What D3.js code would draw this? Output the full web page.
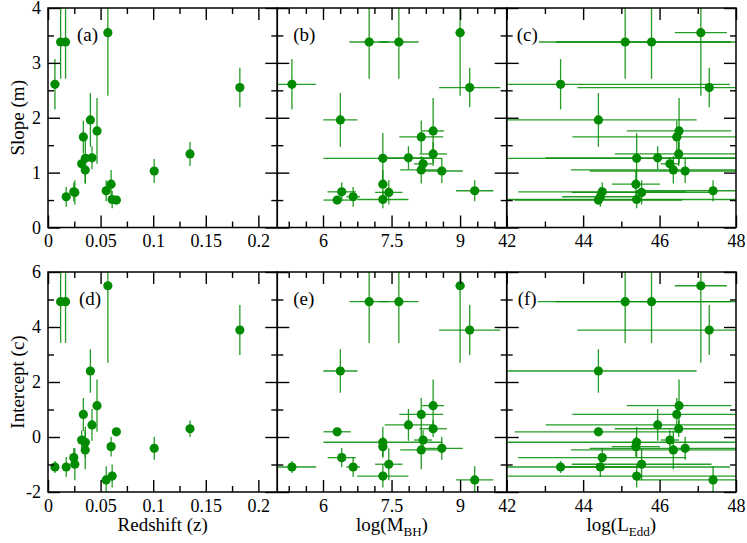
<!DOCTYPE html>
<html>
<head>
<meta charset="utf-8">
<script src="https://cdn.jsdelivr.net/npm/d3@7"></script>
<style>
    body { margin: 0; background: #fff; }
    text { font-family: "Liberation Serif", "Times New Roman", serif; }
</style>
</head>
<body>
<script>
//values, one entry per source
var redshift     = [0.0066, 0.012, 0.0167, 0.0569, 0.1824, 0.0403, 0.0466, 0.0336, 0.0418, 0.0355, 0.135, 0.032, 0.0354, 0.101, 0.060, 0.0245, 0.0173, 0.065, 0.061, 0.0255, 0.0553];
var logMbh       = [5.32, 7.01, 7.66, 9.00, 9.21, 6.38, 8.41, 8.15, 7.87, 7.31, 8.41, 8.19, 8.15, 8.60, 7.31, 6.41, 6.66, 6.31, 7.31, 7.44, 9.32];
var logMbhErr    = [0.53, 0.43, 0.43, 0.10, 0.67, 0.375, 0.24, 0.48, 0.52, 1.3, 0.3, 0.2, 0.46, 0.46, 0.1, 0.31, 0.15, 0.3, 0.56, 0.3, 0.41];
var logLedd      = [43.41, 45.10, 45.79, 47.08, 47.30, 44.40, 46.51, 46.45, 45.95, 45.40, 46.50, 46.27, 46.36, 46.67, 45.38, 44.50, 44.45, 44.40, 45.40, 45.53, 47.40];
var logLeddErr   = [4.43, 2.76, 2.5, 0.68, 3.45, 2.57, 1.37, 2.73, 2.93, 3.6, 1.67, 0.24, 2.68, 2.5, 0.63, 2.2, 1.0, 2.19, 3.6, 1.83, 2.0];
var slope        = [2.61, 3.38, 3.38, 3.55, 2.55, 1.96, 1.76, 1.65, 1.27, 1.26, 1.34, 1.16, 1.05, 1.03, 0.79, 0.65, 0.56, 0.50, 0.51, 0.64, 0.67];
var slopeErr     = [0.46, 0.67, 0.67, 1.15, 0.36, 0.49, 0.6, 0.3, 0.21, 0.46, 0.22, 0.12, 0.25, 0.22, 0.26, 0.17, 0.18, 0.06, 0.16, 0.22, 0.19];
var intercept    = [-1.09, 4.92, 4.92, 5.50, 3.89, 2.40, 1.14, 0.82, 0.44, -0.19, 0.30, -0.11, -0.47, -0.41, -0.35, -0.75, -1.09, 0.19, -1.42, -0.99, -1.56];
var interceptErr = [0.22, 1.5, 1.5, 2.8, 0.91, 0.79, 0.95, 0.6, 0.58, 0.56, 0.3, 0.36, 0.7, 0.42, 0.36, 0.35, 0.36, 0.1, 0.42, 0.58, 0.5];

//tick labels
var zTicks         = [0, 0.05, 0.1, 0.15, 0.2];
var mbhTicks       = [6, 7.5, 9];
var leddTicks      = [42, 44, 46, 48];
var slopeTicks     = [0, 1, 2, 3, 4];
var interceptTicks = [-2, 0, 2, 4, 6];

window.onload = function () {

    var w = 747, h = 543;
    var green = "#008b00";
    var serif = "'Liberation Serif', 'Times New Roman', serif";

    //panel edges
    var colX = [48, 277.3, 506.7, 736];
    var top = [8, 272], bottom = [227.5, 492];

    var svg = d3.select("body").append("svg")
        .attr("width", w)
        .attr("height", h)
        .attr("font-family", serif);

    //scales, one per column and one per row
    var xZ = d3.scaleLinear().domain([0, 0.218]).range([colX[0], colX[1]]);
    var xM = d3.scaleLinear().domain([5, 10.02]).range([colX[1], colX[2]]);
    var xL = d3.scaleLinear().domain([42, 48]).range([colX[2], colX[3]]);
    var yS = d3.scaleLinear().domain([0, 4]).range([bottom[0], top[0]]);
    var yC = d3.scaleLinear().domain([-2, 6]).range([bottom[1], top[1]]);

    var cols = [
        { scale: xZ, vals: redshift, err: null, major: zTicks, minor: d3.range(0.025, 0.218, 0.05) },
        { scale: xM, vals: logMbh, err: logMbhErr, major: mbhTicks,
          minor: d3.range(5.25, 10.02, 0.375).filter(function(d) { return Math.abs((d - 6) / 1.5 - Math.round((d - 6) / 1.5)) > 0.01; }) },
        { scale: xL, vals: logLedd, err: logLeddErr, major: leddTicks, minor: [43, 45, 47] }
    ];
    var rows = [
        { scale: yS, vals: slope, err: slopeErr, major: slopeTicks, minor: [0.5, 1.5, 2.5, 3.5] },
        { scale: yC, vals: intercept, err: interceptErr, major: interceptTicks, minor: [-1, 1, 3, 5] }
    ];
    var names = [["(a)", "(b)", "(c)"], ["(d)", "(e)", "(f)"]];
    var labelDx = [[29, 16, 10], [31, 16, 11]];

    var fmt = function(d) { return String(d); };

    rows.forEach(function(row, r) {
        cols.forEach(function(col, c) {
            var x = col.scale, y = row.scale;
            var id = "clip" + r + c;

            svg.append("clipPath").attr("id", id)
                .append("rect")
                .attr("x", x.range()[0]).attr("y", y.range()[1])
                .attr("width", x.range()[1] - x.range()[0])
                .attr("height", y.range()[0] - y.range()[1]);

            var g = svg.append("g").attr("clip-path", "url(#" + id + ")");
            var idx = d3.range(col.vals.length);

            //vertical error bars
            g.selectAll(".ey")
                .data(idx).enter().append("line")
                .attr("x1", function(i) { return x(col.vals[i]); })
                .attr("x2", function(i) { return x(col.vals[i]); })
                .attr("y1", function(i) { return y(row.vals[i] - row.err[i]); })
                .attr("y2", function(i) { return y(row.vals[i] + row.err[i]); })
                .style("stroke", green).style("stroke-width", 1.3).style("opacity", 0.85);

            //horizontal error bars
            if (col.err) {
                g.selectAll(".ex")
                    .data(idx).enter().append("line")
                    .attr("x1", function(i) { return x(col.vals[i] - col.err[i]); })
                    .attr("x2", function(i) { return x(col.vals[i] + col.err[i]); })
                    .attr("y1", function(i) { return y(row.vals[i]); })
                    .attr("y2", function(i) { return y(row.vals[i]); })
                    .style("stroke", green).style("stroke-width", 1.3).style("opacity", 0.85);
            }

            //panel label with white box
            var lab = svg.append("text")
                .attr("x", x.range()[0] + labelDx[r][c])
                .attr("y", y.range()[1] + 33)
                .attr("font-size", 19)
                .text(names[r][c]);
            var bb = lab.node().getBBox();
            svg.insert("rect", function() { return lab.node(); })
                .attr("x", bb.x - 1).attr("y", bb.y)
                .attr("width", bb.width + 2).attr("height", bb.height)
                .style("fill", "#fff");

            //points
            g.selectAll(".pt")
                .data(idx).enter().append("circle")
                .attr("cx", function(i) { return x(col.vals[i]); })
                .attr("cy", function(i) { return y(row.vals[i]); })
                .attr("r", 4.6)
                .style("fill", green);

            //ticks on all four sides, pointing in
            var x0 = x.range()[0], x1 = x.range()[1], y0 = y.range()[0], y1 = y.range()[1];
            var axes = [
                [d3.axisBottom(x).tickValues(col.major).tickFormat(fmt).tickSizeInner(-12).tickPadding(7), 0, y0],
                [d3.axisBottom(x).tickValues(col.minor).tickFormat("").tickSizeInner(-6), 0, y0],
                [d3.axisTop(x).tickValues(col.major).tickFormat("").tickSizeInner(-12), 0, y1],
                [d3.axisTop(x).tickValues(col.minor).tickFormat("").tickSizeInner(-6), 0, y1],
                [d3.axisLeft(y).tickValues(row.major).tickFormat(c == 0 ? fmt : "").tickSizeInner(-12).tickPadding(7), x0, 0],
                [d3.axisLeft(y).tickValues(row.minor).tickFormat("").tickSizeInner(-6), x0, 0],
                [d3.axisRight(y).tickValues(row.major).tickFormat("").tickSizeInner(-12), x1, 0],
                [d3.axisRight(y).tickValues(row.minor).tickFormat("").tickSizeInner(-6), x1, 0]
            ];
            axes.forEach(function(a) {
                var ag = svg.append("g")
                    .attr("transform", "translate(" + a[1] + "," + a[2] + ")")
                    .call(a[0].tickSizeOuter(0));
                ag.attr("font-size", 18).attr("font-family", serif);
                ag.select(".domain").remove();
                ag.selectAll("line").style("stroke", "#000").style("stroke-width", 1.4);
                ag.selectAll("text").style("fill", "#000");
            });

            //frame
            svg.append("rect")
                .attr("x", x0).attr("y", y1)
                .attr("width", x1 - x0).attr("height", y0 - y1)
                .style("fill", "none").style("stroke", "#000").style("stroke-width", 1.5);
        });
    });

    //axis titles
    svg.append("text")
        .attr("transform", "translate(24," + ((top[0] + bottom[0]) / 2) + ") rotate(-90)")
        .attr("text-anchor", "middle").attr("font-size", 19)
        .text("Slope (m)");
    svg.append("text")
        .attr("transform", "translate(24," + ((top[1] + bottom[1]) / 2) + ") rotate(-90)")
        .attr("text-anchor", "middle").attr("font-size", 19)
        .text("Intercept (c)");

    svg.append("text")
        .attr("x", (colX[0] + colX[1]) / 2).attr("y", 531)
        .attr("text-anchor", "middle").attr("font-size", 19)
        .text("Redshift (z)");

    var subTitle = function(cx, main, sub) {
        var t = svg.append("text")
            .attr("x", cx).attr("y", 531)
            .attr("text-anchor", "middle").attr("font-size", 19);
        t.append("tspan").text("log(" + main);
        t.append("tspan").attr("font-size", 13).attr("dy", 5).text(sub);
        t.append("tspan").attr("dy", -5).text(")");
    };
    subTitle((colX[1] + colX[2]) / 2, "M", "BH");
    subTitle((colX[2] + colX[3]) / 2, "L", "Edd");

};
</script>
</body>
</html>
